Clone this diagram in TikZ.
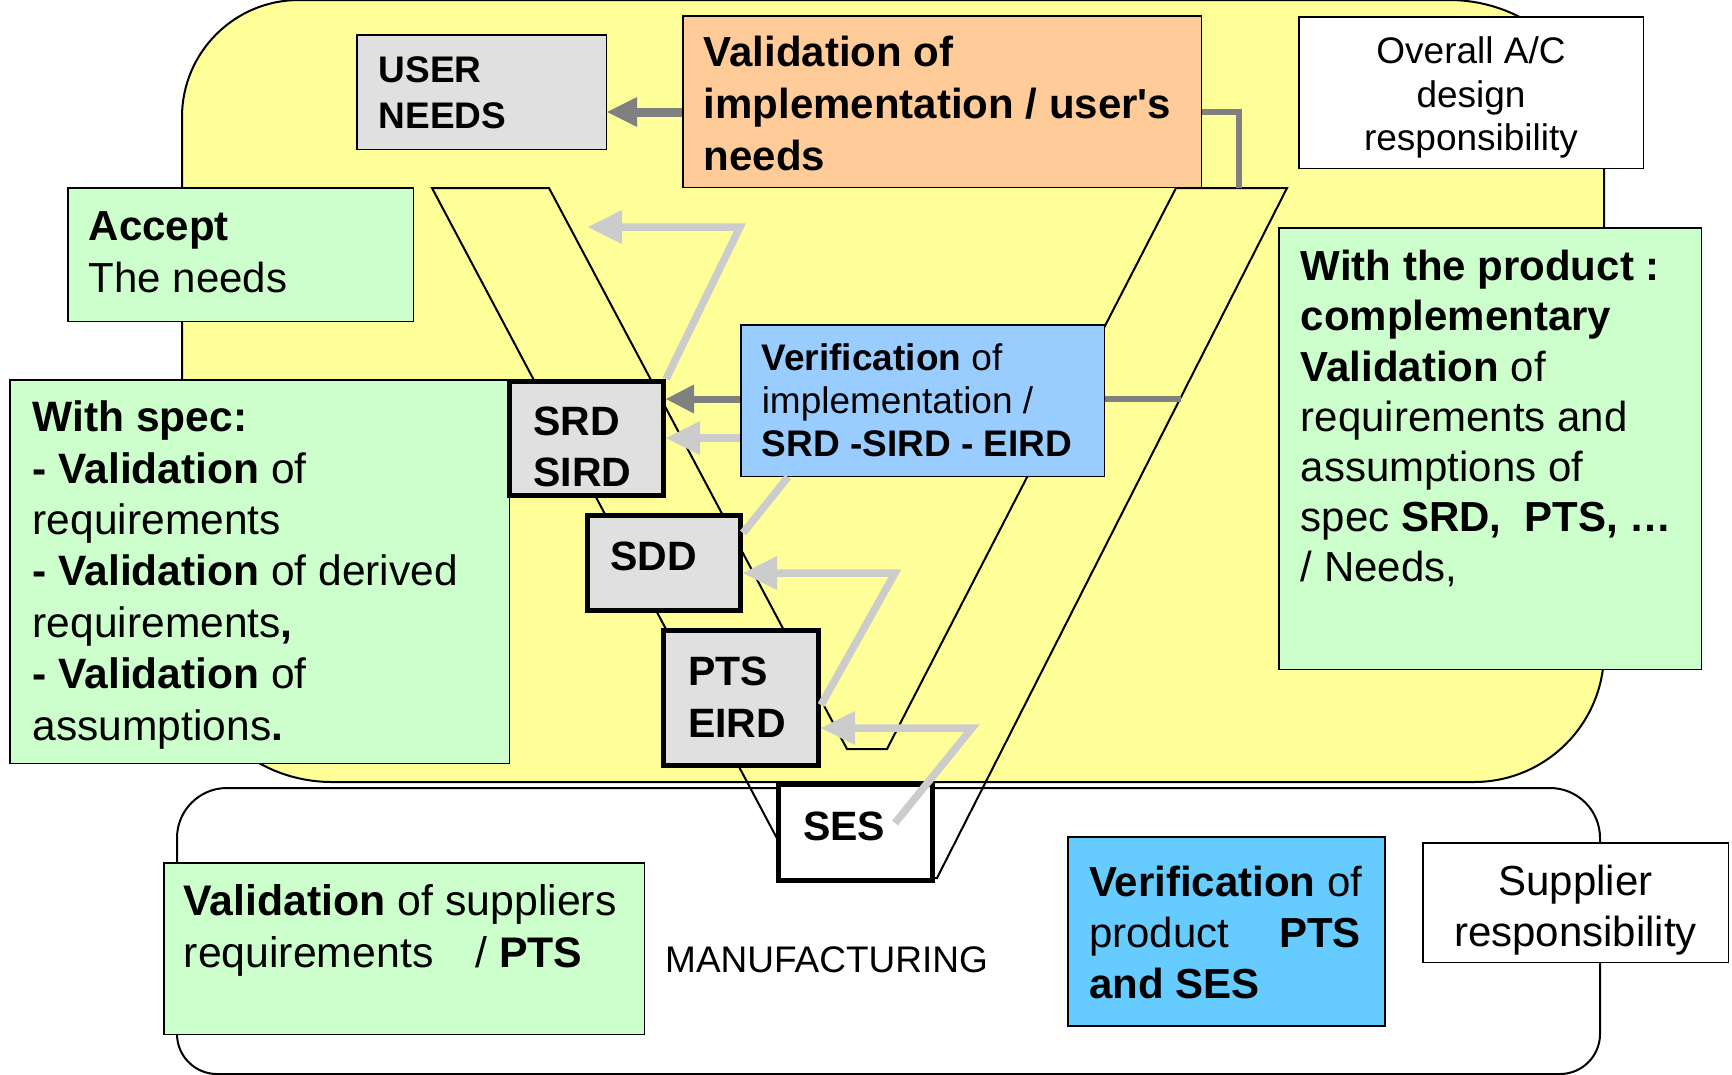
\documentclass[tikz,border=0pt]{standalone}
\usepackage{fontspec}
\setmainfont{Liberation Sans}
\usetikzlibrary{arrows.meta}

\definecolor{yellowbg}{HTML}{FFFF99}
\definecolor{greenbox}{HTML}{CCFFCC}
\definecolor{orangebox}{HTML}{FFCC99}
\definecolor{graybox}{HTML}{E0E0E0}
\definecolor{bluebox}{HTML}{99CCFF}
\definecolor{cyanbox}{HTML}{66CCFF}
\definecolor{arrowdark}{HTML}{808080}
\definecolor{arrowlight}{HTML}{CCCCCC}

% width, height, left padding, first baseline, text
\newcommand{\boxtext}[5]{\parbox[c][#2][t]{#1}{\leftskip=#3\relax\rightskip=0pt plus 1fil\relax\parfillskip=0pt plus 1fil\relax\rule{0pt}{#4}#5\par}}

\tikzset{
  box/.style={draw=black, line width=1.5pt, inner sep=0pt, anchor=north west},
  docbox/.style={draw=black, line width=5pt, inner sep=0pt, anchor=north west, fill=graybox,
    font=\fontsize{41}{51}\selectfont\bfseries},
  darkarr/.style={draw=arrowdark, line width=9pt, -{Triangle[length=30pt,width=30pt,line width=0pt]}},
  darkarrs/.style={draw=arrowdark, line width=7pt, -{Triangle[length=28pt,width=29pt,line width=0pt]}},
  darkline/.style={draw=arrowdark, line width=6pt},
  lightarr/.style={draw=arrowlight, line width=7.5pt, line join=miter, -{Triangle[length=34pt,width=34pt,line width=0pt]}},
  lightline/.style={draw=arrowlight, line width=7.5pt},
}

\begin{document}
\begin{tikzpicture}[x=1pt, y=-1pt]
\useasboundingbox (0,0) rectangle (1732,1074);
\clip (0,0) rectangle (1732,1074);

% design-responsibility area
\draw[fill=yellowbg, line width=2pt]
  (182,400) -- (182,117) arc[start angle=180, end angle=270, radius=117]
  -- (1449,0) arc[start angle=270, end angle=360, radius=155]
  -- (1604,652) arc[start angle=0, end angle=90, radius=130]
  -- (332,782) arc[start angle=90, end angle=180, radius=150] -- cycle;

% supplier area
\draw[fill=white, line width=2pt]
  (177,900) -- (177,838) arc[start angle=180, end angle=270, radius=50]
  -- (1550,788) arc[start angle=270, end angle=360, radius=50]
  -- (1600,1034) arc[start angle=0, end angle=90, radius=40]
  -- (217,1074) arc[start angle=90, end angle=180, radius=40] -- cycle;

% the V cycle outline
\draw[line width=2pt, line join=miter]
  (432,188) -- (798,878) -- (937,878) -- (1287,188) -- (1176,188)
  -- (887,749) -- (847,749) -- (549,188) -- cycle;
\coordinate (rbtop) at (1239,188);
\coordinate (vout) at (1181,399);

% boxes
\node[box, fill=graybox, font=\fontsize{37}{46}\selectfont\bfseries] (usr) at (356,34)
  {\boxtext{249.5pt}{114.5pt}{22pt}{48pt}{USER\\NEEDS}};

\node[box, fill=orangebox, font=\fontsize{42}{52}\selectfont\bfseries] (val) at (682,15)
  {\boxtext{518.5pt}{171.5pt}{21pt}{51pt}{Validation of\\implementation / user\textquotesingle s\\needs}};

\node[box, fill=white, font=\fontsize{37}{43.5}\selectfont] (ovr) at (1298,16)
  {\boxtext{344.5pt}{151.5pt}{0pt}{47pt}{\centering Overall A/C\\design\\responsibility}};

\node[box, fill=greenbox, font=\fontsize{42}{52}\selectfont] (acc) at (67,187)
  {\boxtext{345.5pt}{133.5pt}{21pt}{53pt}{\textbf{Accept}\\The needs}};

\node[box, fill=greenbox, font=\fontsize{42.5}{51.4}\selectfont] (spec) at (9,379)
  {\boxtext{499.5pt}{383.5pt}{23pt}{52pt}{\textbf{With spec:}\\\textbf{- Validation} of\\requirements\\\textbf{- Validation} of derived\\requirements\textbf{,}\\\textbf{- Validation} of\\assumptions\textbf{.}}};

\node[box, fill=bluebox, font=\fontsize{37}{43}\selectfont] (ver) at (740,324)
  {\boxtext{363.5pt}{151.5pt}{21pt}{46pt}{\textbf{Verification} of\\implementation /\\\textbf{SRD -SIRD - EIRD}}};

\node[box, fill=greenbox, font=\fontsize{42}{50.2}\selectfont] (prod) at (1278,227)
  {\boxtext{422.5pt}{441.5pt}{22pt}{53pt}{\textbf{With the product :}\\\textbf{complementary}\\\textbf{Validation} of\\requirements and\\assumptions of\\spec \textbf{SRD,\ \ PTS, …}\\/ Needs,}};

\node[docbox] (srd) at (507,379)
  {\boxtext{154pt}{114pt}{24pt}{53.5pt}{SRD\\SIRD}};
\node[docbox] (sdd) at (585,513)
  {\boxtext{153pt}{95pt}{23pt}{54.5pt}{SDD}};
\node[docbox, font=\fontsize{41}{52}\selectfont\bfseries] (pts) at (661,628)
  {\boxtext{155pt}{135pt}{24.5pt}{54.5pt}{PTS\\EIRD}};
\node[docbox, fill=white] (ses) at (776,782)
  {\boxtext{154pt}{96pt}{24.5pt}{55.5pt}{SES}};

\node[box, fill=greenbox, font=\fontsize{42.8}{52}\selectfont] (sup) at (163,862)
  {\boxtext{480.5pt}{171.5pt}{20pt}{53pt}{\textbf{Validation} of suppliers\\requirements\hspace*{30pt} / \textbf{PTS}}};

\node[font=\fontsize{37}{44}\selectfont, anchor=base west, inner sep=0pt] (mfg) at (665,972) {MANUFACTURING};

\node[box, line width=2pt, fill=cyanbox, font=\fontsize{42}{51}\selectfont] (vprod) at (1067,836)
  {\boxtext{317pt}{189pt}{21pt}{59pt}{\textbf{Verification} of\\product\hspace*{50pt}\textbf{PTS}\\\textbf{and SES}}};

\node[box, fill=white, font=\fontsize{42}{51}\selectfont] (supr) at (1422,842)
  {\boxtext{305.5pt}{119.5pt}{0pt}{53pt}{\centering Supplier\\responsibility}};

% connectors
\draw[darkarr] (val.west |- 0,112) -- (usr.east |- 0,112);
\draw[darkline] (val.east |- 0,112) -| (rbtop);
\draw[darkarrs] (ver.west |- 0,399) -- (srd.east |- 0,399);
\draw[darkline] (ver.east |- 0,399) -- (vout);
\draw[lightarr] (ver.west |- 0,438) -- (srd.east |- 0,438);

\coordinate (za) at (740,227);
\coordinate (zatip) at (588,227);
\coordinate (zc) at (895,573);
\coordinate (zd) at (972,728);
\draw[lightarr] (srd.north east) -- (za) -- (zatip);
\draw[lightline] ([xshift=48pt]ver.south west) -- ([yshift=-20pt]sdd.north east);
\draw[lightarr] (pts.east |- 0,705) -- (zc) -- (sdd.east |- 0,573);
\draw[lightarr] ([xshift=-40pt,yshift=-41pt]ses.north east) -- (zd) -- (pts.east |- 0,728);
\end{tikzpicture}
\end{document}
